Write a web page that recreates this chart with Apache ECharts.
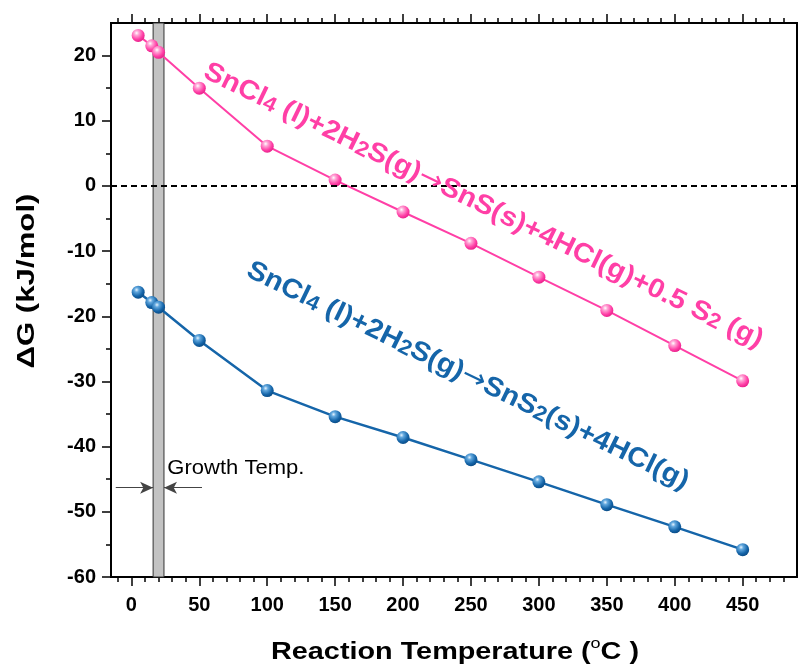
<!DOCTYPE html>
<html>
<head>
<meta charset="utf-8">
<script src="https://cdn.jsdelivr.net/npm/echarts@6/dist/echarts.min.js"></script>
<style>
  html, body { margin: 0; padding: 0; background: #fff; }
  #chart { width: 798px; height: 666px; }
</style>
</head>
<body>
<div id="chart"></div>
<script>
// reaction temperatures (°C) and ΔG (kJ/mol)
const temps = [5, 15, 20, 50, 100, 150, 200, 250, 300, 350, 400, 450]
const snsDG = [23.1, 21.5, 20.5, 15.0, 6.1, 0.9, -4.0, -8.8, -14.0, -19.1, -24.5, -29.9]
const sns2DG = [-16.3, -17.9, -18.6, -23.7, -31.4, -35.4, -38.6, -42.0, -45.4, -48.9, -52.3, -55.8]

const xMajor = [0, 50, 100, 150, 200, 250, 300, 350, 400, 450]
const xMinor = [-10, 10, 20, 30, 40, 60, 70, 80, 90, 110, 120, 130, 140, 160, 170, 180, 190,
  210, 220, 230, 240, 260, 270, 280, 290, 310, 320, 330, 340, 360, 370, 380, 390,
  410, 420, 430, 440, 460, 470, 480]
const yMajor = [-60, -50, -40, -30, -20, -10, 0, 10, 20]
const yMinor = [-55, -45, -35, -25, -15, -5, 5, 15]

// growth temperature window
const growthBand = [16, 24]

const PINK = '#ff3fa6'
const BLUE = '#1565a9'
const FONT = 'Liberation Sans, Arial, sans-serif'

const chart = echarts.init(document.getElementById('chart'))

function ball(c0, c1, c2, c3) {
  return {
    type: 'radial', x: 0.38, y: 0.32, r: 0.7,
    colorStops: [
      { offset: 0, color: c0 },
      { offset: 0.25, color: c1 },
      { offset: 0.7, color: c2 },
      { offset: 1, color: c3 }
    ]
  }
}

function xAxisCfg(pos, ticks, len, labels) {
  return {
    type: 'value', position: pos, min: -15, max: 490,
    axisLine: { show: true, onZero: false, lineStyle: { color: '#000', width: 2 } },
    axisTick: { show: true, inside: false, length: len, customValues: ticks, lineStyle: { color: '#000', width: 1.5 } },
    axisLabel: labels
      ? { show: true, customValues: ticks, margin: 18, color: '#000', fontSize: 20, fontWeight: 'bold', fontFamily: FONT }
      : { show: false },
    splitLine: { show: false }
  }
}

function yAxisCfg(pos, ticks, len, labels) {
  return {
    type: 'value', position: pos, min: -60, max: 25,
    axisLine: { show: true, onZero: false, lineStyle: { color: '#000', width: 2 } },
    axisTick: { show: ticks.length > 0, inside: false, length: len, customValues: ticks, lineStyle: { color: '#000', width: 1.5 } },
    axisLabel: labels
      ? { show: true, customValues: ticks, margin: 15, color: '#000', fontSize: 20, fontWeight: 'bold', fontFamily: FONT }
      : { show: false },
    splitLine: { show: false }
  }
}

const option = {
  animation: false,
  backgroundColor: '#fff',
  grid: { left: 111, right: 1, top: 23, bottom: 89, containLabel: false },
  xAxis: [
    xAxisCfg('bottom', xMajor, 9, true),
    xAxisCfg('bottom', xMinor, 5, false),
    xAxisCfg('top', xMajor, 9, false),
    xAxisCfg('top', xMinor, 5, false)
  ],
  yAxis: [
    yAxisCfg('left', yMajor, 9, true),
    yAxisCfg('left', yMinor, 5, false),
    yAxisCfg('right', [], 0, false)
  ],
  series: [
    {
      // growth temperature band + arrows
      type: 'line',
      data: [],
      z: 1,
      markArea: {
        silent: true,
        itemStyle: { color: '#c3c3c3', borderColor: '#333', borderWidth: 1 },
        data: [[{ xAxis: growthBand[0] }, { xAxis: growthBand[1] }]]
      },
      markLine: {
        silent: true,
        symbol: ['none', 'arrow'],
        symbolSize: [9, 13],
        label: { show: false },
        lineStyle: { color: '#444', width: 1, type: 'solid' },
        data: [
          [{ coord: [-11.5, -46.3] }, { coord: [growthBand[0], -46.3] }],
          [{ coord: [52, -46.3] }, { coord: [growthBand[1], -46.3] }]
        ]
      }
    },
    {
      name: 'SnS',
      type: 'line',
      z: 3,
      data: temps.map((t, i) => [t, snsDG[i]]),
      symbol: 'circle',
      symbolSize: 13,
      lineStyle: { color: PINK, width: 2 },
      itemStyle: { color: ball('#ffffff', '#ffa6d6', PINK, '#e8208a') },
      markLine: {
        silent: true,
        symbol: 'none',
        label: { show: false },
        lineStyle: { color: '#000', width: 2, type: [6, 4] },
        data: [{ yAxis: 0 }]
      }
    },
    {
      name: 'SnS2',
      type: 'line',
      z: 3,
      data: temps.map((t, i) => [t, sns2DG[i]]),
      symbol: 'circle',
      symbolSize: 13,
      lineStyle: { color: BLUE, width: 2.5 },
      itemStyle: { color: ball('#e6f3ff', '#62a8de', BLUE, '#0a4c86') }
    }
  ]
}

chart.setOption(option)

// annotation anchors in data space
const pinkLabelAt = [260, -2.7]
const blueLabelAt = [248.5, -28.8]
const growthLabelAt = [26.5, -43.4]
const ROT = -26 * Math.PI / 180

function rich(color) {
  return {
    n: { fontSize: 27, fontWeight: 'bold', fontFamily: FONT, fill: color, lineHeight: 32, verticalAlign: 'bottom' },
    s: { fontSize: 21, fontWeight: 'bold', fontFamily: FONT, fill: color, lineHeight: 15, verticalAlign: 'bottom' },
    a: { fontSize: 27, fontWeight: 'normal', fontFamily: 'DejaVu Sans, sans-serif', fill: color, lineHeight: 22, verticalAlign: 'bottom' }
  }
}

const toPx = (p) => chart.convertToPixel({ xAxisIndex: 0, yAxisIndex: 0 }, p)
const pp = toPx(pinkLabelAt)
const bp = toPx(blueLabelAt)
const gp = toPx(growthLabelAt)

chart.setOption({
  graphic: [
    {
      type: 'text', x: pp[0], y: pp[1], rotation: ROT, scaleX: 1.08, z: 10,
      style: {
        text: '{n|SnCl}{s|4}{n| (l)+2H}{s|2}{n|S(g)}{a|→}{n|SnS(s)+4HCl(g)+0.5 S}{s|2}{n| (g)}',
        rich: rich(PINK), align: 'center', verticalAlign: 'middle'
      }
    },
    {
      type: 'text', x: bp[0], y: bp[1], rotation: ROT, scaleX: 1.08, z: 10,
      style: {
        text: '{n|SnCl}{s|4}{n| (l)+2H}{s|2}{n|S(g)}{a|→}{n|SnS}{s|2}{n|(s)+4HCl(g)}',
        rich: rich(BLUE), align: 'center', verticalAlign: 'middle'
      }
    },
    {
      type: 'text', x: gp[0], y: gp[1], scaleX: 1.1, z: 10,
      style: {
        text: 'Growth Temp.', fill: '#000', fontSize: 20, fontFamily: FONT,
        align: 'left', verticalAlign: 'middle'
      }
    },
    {
      // x axis title
      type: 'text', x: 455, y: 650, scaleX: 1.2, z: 10,
      style: {
        text: '{n|Reaction Temperature (}{u|o}{n|C )}',
        align: 'center', verticalAlign: 'middle',
        rich: {
          n: { fontSize: 24, fontWeight: 'bold', fontFamily: FONT, fill: '#000', lineHeight: 28, verticalAlign: 'bottom' },
          u: { fontSize: 15, fontWeight: 'normal', fontFamily: FONT, fill: '#000', lineHeight: 14, verticalAlign: 'top' }
        }
      }
    },
    {
      // y axis title
      type: 'text', x: 27, y: 281, rotation: Math.PI / 2, scaleX: 1.3, z: 10,
      style: {
        text: 'ΔG (kJ/mol)', fill: '#000', fontSize: 24, fontWeight: 'bold', fontFamily: FONT,
        align: 'center', verticalAlign: 'middle'
      }
    }
  ]
})
</script>
</body>
</html>
